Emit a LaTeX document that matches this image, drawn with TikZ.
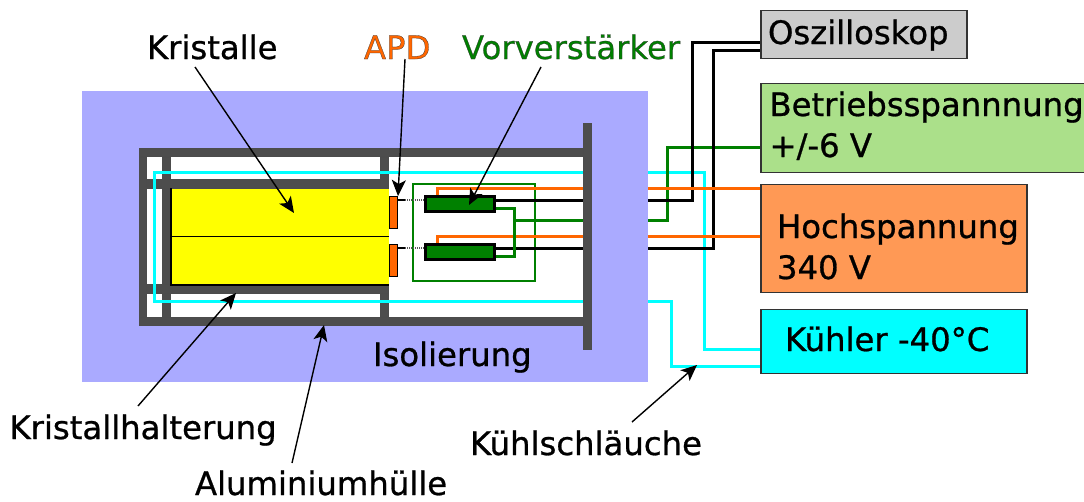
\documentclass[tikz,border=0pt]{standalone}
\usepackage{fontspec}
\setmainfont{DejaVu Sans}
\newfontfamily\labfont{DejaVu Sans}[FakeBold=0.8]
\usetikzlibrary{arrows.meta}
\definecolor{frameg}{HTML}{4D4D4D}
\definecolor{iso}{HTML}{AAAAFF}
\definecolor{wireor}{HTML}{FF6600}
\definecolor{wiregr}{HTML}{008000}
\definecolor{boxgr}{HTML}{ABE08A}
\definecolor{boxor}{HTML}{FF9955}
\definecolor{boxgy}{HTML}{CCCCCC}
\definecolor{cool}{HTML}{00FFFF}
\definecolor{crystal}{HTML}{FFFF00}
\tikzset{
  bar/.style={fill=frameg,draw=black!70,line width=1pt},
  wirebk/.style={draw=black,line width=3pt},
  wireo/.style={draw=wireor,line width=3pt},
  wireg/.style={draw=wiregr,line width=3pt},
  wirec/.style={draw=cool,line width=3pt},
  pointer/.style={draw=black,line width=1.4pt,-{Stealth[length=16pt,width=14pt,inset=4pt]}},
  lab/.style={font=\labfont\fontsize{32.3}{32}\selectfont,anchor=base west,inner sep=0pt,outer sep=0pt},
  extbox/.style={draw=black!80,line width=1.5pt,inner sep=0pt},
  amp/.style={draw=black,fill=wiregr,line width=3pt,inner sep=0pt},
  apd/.style={draw=black,fill=wireor,line width=1pt},
  feed/.style={draw=black!65,line width=1.2pt,dash pattern=on 1pt off 1pt},
}
\newcommand{\darkedge}{\special{pdf:code 0.2 0.2 0.2 RG}}
\begin{document}
\begin{tikzpicture}[x=1pt,y=-1pt]
\useasboundingbox (0,0) rectangle (1084,501);
% insulation
\fill[iso] (82,91) rectangle (648,382);
\fill[white] (139.5,148) rectangle (587,325);
% vertical frame
\draw[bar] (139.8,157) rectangle (146.5,317);
\draw[bar] (162.8,157) rectangle (170.8,317);
\draw[bar] (380.8,157) rectangle (388.8,317);
% inner holders
\draw[bar] (146.5,179.8) rectangle (380.8,188);
\draw[bar] (146.5,284.8) rectangle (388.8,293);
% crystals
\fill[crystal] (171,188.5) rectangle (389,284.5);
\draw[black,line width=1pt] (171,236.5) -- (389,236.5);
\draw[black,line width=1.3pt] (171,188) -- (171,285) -- (389,285);
% APD
\draw[apd] (389,196) rectangle (397.5,228);
\draw[apd] (389,244) rectangle (397.5,276);
% preamp box
\draw[wiregr,line width=1.5pt] (413,184) rectangle (535,281);
% cyan loop inside
\draw[wirec] (583,172) -- (154,172) -- (154,301) -- (583,301);
% outer frame
\draw[bar] (139.8,148.5) rectangle (583,156.5);
\draw[bar] (139.8,317) rectangle (583,325);
\draw[bar] (583,123) rectangle (591,349.5);
% preamps and wires inside
\coordinate (o1) at (437,188); \coordinate (o2) at (437,236);
\draw[wireo] (437,197) -- (o1) -- (583,188);
\draw[wireo] (437,245) -- (o2) -- (583,236);
\draw[wirebk] (495,200) -- (583,200);
\draw[wirebk] (495,248) -- (583,248);
\draw[wireg] (495,208) -- (514,208) -- (514,256) -- (495,256);
\draw[wireg] (514,220) -- (583,220);
\draw[black,line width=1.3pt] (397,200) -- (405,200);
\draw[black,line width=1.3pt] (397,248) -- (405,248);
\draw[feed] (405,200) -- (425,200);
\draw[feed] (405,248) -- (425,248);
\draw[amp] (425,196.5) rectangle (494,211.5);
\draw[amp] (425,244.5) rectangle (494,259.5);
% outer boxes
\node[extbox,fill=boxgy,minimum width=206pt,minimum height=48pt,anchor=north west] (osz) at (760.3,9.5) {};
\node[extbox,fill=boxgr,minimum width=330pt,minimum height=89pt,anchor=north west] (bet) at (760.3,82.5) {};
\node[extbox,fill=boxor,minimum width=266pt,minimum height=108pt,anchor=north west] (hoch) at (760.3,183.5) {};
\node[extbox,fill=cool,minimum width=266pt,minimum height=64pt,anchor=north west] (kuehl) at (760.3,308.5) {};
% outer wires
\draw[wirec] (648,172) -- (704,172) -- (704,349) -- (kuehl.west |- 0,349);
\draw[wirec] (648,301) -- (671,301) -- (671,366) -- (kuehl.west |- 0,366);
\draw[wireg] (648,220) -- (667,220) -- (667,147) -- (bet.west |- 0,147);
\draw[wirebk] (648,200) -- (692,200) -- (692,42) -- (osz.west |- 0,42);
\draw[wirebk] (648,248) -- (713,248) -- (713,50) -- (osz.west |- 0,50);
\draw[wireo] (648,188) -- (hoch.west |- 0,188);
\draw[wireo] (648,236) -- (hoch.west |- 0,236);
% labels
\node[lab] (lk) at (147,59) {Kristalle};
\node[lab,text=wireor] (la) at (364,59) {\darkedge APD};
\node[lab,text=wiregr] (lv) at (462,59) {\darkedge Vorverstärker};
\node[lab] at (768,44) {Oszilloskop};
\node[lab] at (769.5,116) {Betriebsspannnung};
\node[lab] at (769.5,157) {+/-6 V};
\node[lab] at (777,238) {Hochspannung};
\node[lab] at (777,279) {340 V};
\node[lab] at (785,351) {Kühler -40°C};
\node[lab] at (373,366) {Isolierung};
\node[lab] (lh) at (9.5,439) {Kristallhalterung};
\node[lab] (lal) at (195,495) {Aluminiumhülle};
\node[lab] (ls) at (470,455) {Kühlschläuche};
% pointers
\coordinate (a1) at (294,213); \coordinate (a2) at (398,196); \coordinate (a3) at (469,205);
\coordinate (a4) at (236,293); \coordinate (a5) at (324,325); \coordinate (a6) at (697,365);
\coordinate (s1) at (195,67); \coordinate (s2) at (405,59); \coordinate (s3) at (541,67);
\coordinate (s4) at (138,406); \coordinate (s5) at (292,463); \coordinate (s6) at (632,422);
\draw[pointer] (s1) -- (a1);
\draw[pointer] (s2) -- (a2);
\draw[pointer] (s3) -- (a3);
\draw[pointer] (s4) -- (a4);
\draw[pointer] (s5) -- (a5);
\draw[pointer] (s6) -- (a6);
\end{tikzpicture}
\end{document}
